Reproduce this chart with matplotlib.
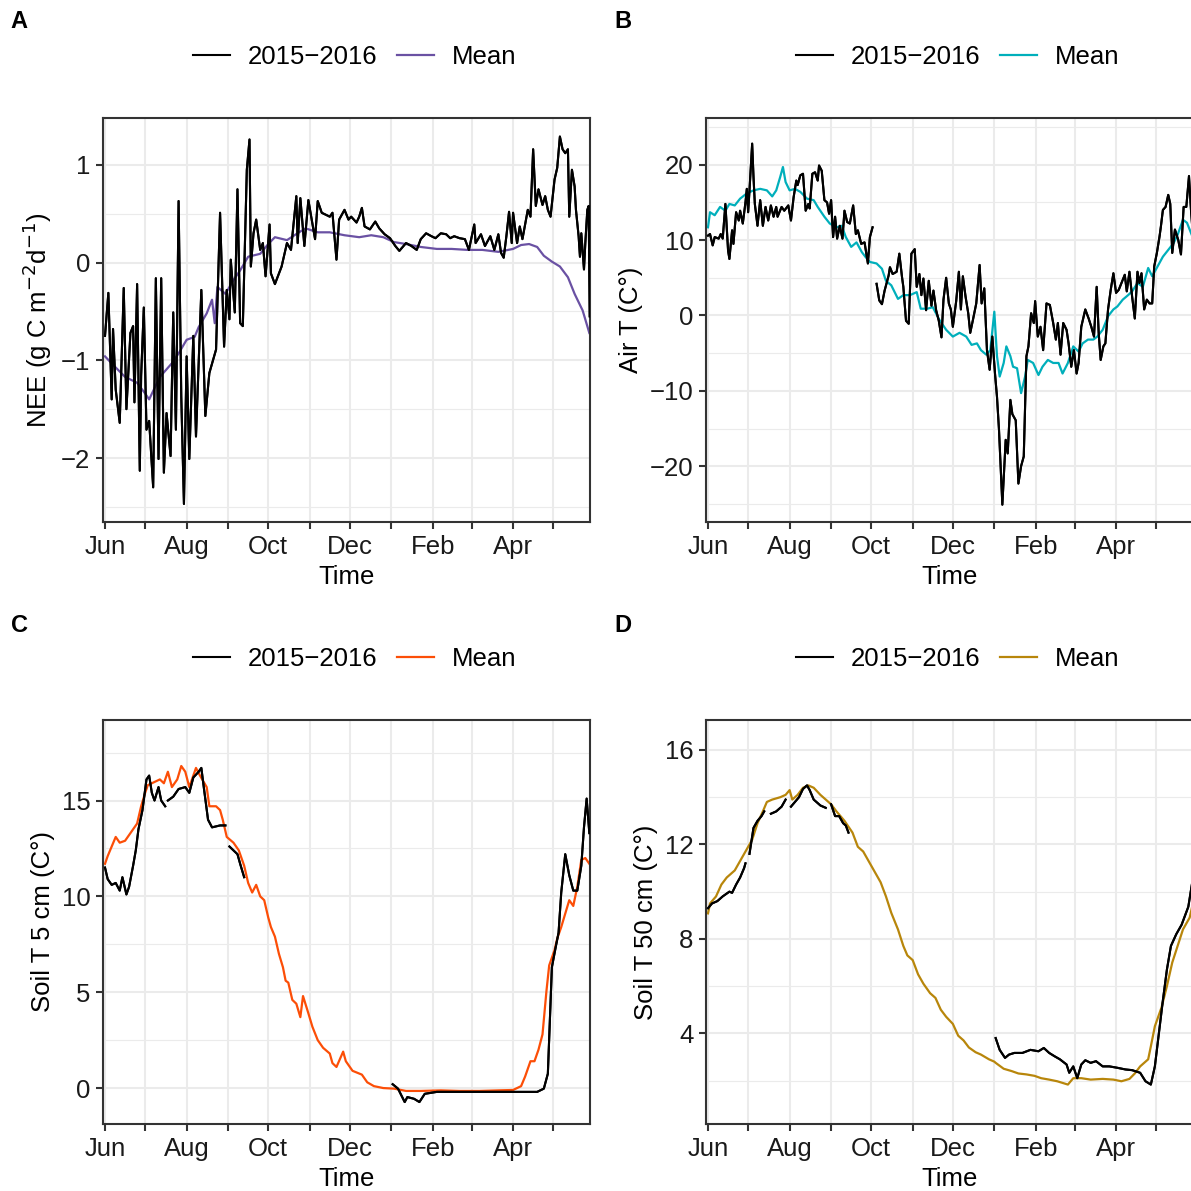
import numpy as np
import matplotlib
matplotlib.use("Agg")
import matplotlib.pyplot as plt
import matplotlib.dates as mdates
from matplotlib.ticker import FuncFormatter, MultipleLocator
from datetime import datetime

plt.rcParams["font.family"] = ["Liberation Sans", "DejaVu Sans"]

nan = np.nan
start = mdates.date2num(datetime(2015, 6, 1))

# ---- A: NEE ----
nee_mean_day = [0, 7, 15, 24, 30, 33, 41, 50, 55, 61, 67, 70, 76, 80, 82, 84, 90, 96, 101, 107, 116, 122, 127,
                136, 145, 150, 159, 168, 179, 190, 199, 208, 216, 225, 236, 248, 259, 271, 282, 294, 305, 311,
                317, 323, 328, 334, 340, 346, 351, 357, 362]
nee_mean = [-0.96, -1.06, -1.17, -1.23, -1.34, -1.40, -1.17, -1.03, -0.93, -0.79, -0.76, -0.66, -0.52, -0.38,
            -0.62, -0.25, -0.32, -0.18, -0.08, 0.06, 0.09, 0.19, 0.26, 0.23, 0.31, 0.35, 0.31, 0.31, 0.28, 0.26,
            0.28, 0.26, 0.21, 0.19, 0.16, 0.14, 0.14, 0.13, 0.13, 0.11, 0.14, 0.18, 0.19, 0.16, 0.07, 0.01,
            -0.04, -0.15, -0.32, -0.49, -0.72]
nee_obs_day = [0, 2.5, 5, 6, 8, 11, 14, 16, 19, 21, 22, 24, 26, 27, 29, 31, 33, 36, 38, 40, 42, 44, 46, 49, 51,
               53, 55, 57, 59, 61, 63, 66, 68, 72, 75, 78, 83, 86, 89, 91, 93, 94, 97, 99, 101, 103, 106, 108,
               109, 111, 113, 116, 118, 120, 123, 124, 127, 132, 136, 139, 143, 144, 146, 149, 152, 157, 159,
               162, 168, 170, 173, 175, 179, 182, 184, 188, 190, 192, 194, 198, 202, 205, 209, 213, 217, 220,
               225, 229, 233, 236, 240, 244, 247, 251, 255, 258, 261, 265, 269, 272, 276, 277, 281, 284, 288,
               291, 294, 296, 298, 300, 302, 304, 305, 308, 310, 312, 316, 318, 320, 322, 324, 327, 329, 331,
               333, 336, 338, 340, 342, 344, 346, 347, 349, 351, 352, 354, 355, 356, 358, 359, 360.5, 361.5, 362.3]
nee_obs = [-0.75, -0.31, -1.40, -0.68, -1.30, -1.64, -0.26, -1.50, -0.72, -0.65, -1.43, -0.22, -2.13, -1.16,
           -0.46, -1.71, -1.62, -2.30, -0.16, -2.01, -0.16, -2.15, -1.54, -1.98, -0.51, -1.71, 0.63, -1.37,
           -2.47, -0.96, -2.01, -0.75, -1.78, -0.28, -1.57, -1.13, -0.89, 0.51, -0.86, -0.28, -0.58, 0.03,
           -0.51, 0.75, -0.62, -0.65, 0.95, 1.26, -0.04, 0.30, 0.44, 0.13, 0.20, -0.14, 0.39, -0.11, -0.22,
           -0.04, 0.20, 0.13, 0.68, 0.20, 0.66, 0.17, 0.64, 0.24, 0.63, 0.51, 0.47, 0.51, 0.03, 0.44, 0.54,
           0.44, 0.47, 0.41, 0.47, 0.56, 0.37, 0.34, 0.42, 0.35, 0.29, 0.25, 0.17, 0.12, 0.20, 0.17, 0.13,
           0.24, 0.30, 0.27, 0.25, 0.30, 0.29, 0.25, 0.27, 0.25, 0.24, 0.13, 0.39, 0.20, 0.29, 0.17, 0.27,
           0.13, 0.29, 0.10, 0.05, 0.27, 0.52, 0.20, 0.51, 0.20, 0.37, 0.24, 0.54, 0.47, 1.16, 0.58, 0.75,
           0.59, 0.68, 0.54, 0.47, 0.85, 0.97, 1.29, 1.16, 1.12, 1.16, 0.47, 0.95, 0.78, 0.54, 0.27, 0.06,
           0.30, -0.07, 0.20, 0.54, 0.58, -0.55]

# ---- B: air temperature ----
air_mean_day = [0, 1.5, 5, 9, 13, 16, 20, 24, 29, 34, 39, 44, 48, 51, 54, 56, 58, 61, 65, 69, 74, 79, 82, 87,
                91, 96, 100, 103, 107, 111, 115, 118, 121, 126, 130, 133, 137, 142, 146, 151, 156, 159, 164,
                168, 173, 178, 183, 188, 193, 197, 201, 204, 208, 211, 214, 216, 218, 221, 223, 226, 228, 231,
                234, 237, 239, 243, 247, 250, 254, 258, 262, 265, 269, 273, 277, 280, 284, 288, 291, 295, 299,
                303, 306, 310, 314, 317, 321, 325, 329, 332, 336, 340, 344, 348, 351, 355, 358, 362]
air_mean = [11.7, 13.7, 13.3, 14.4, 13.9, 14.8, 14.6, 15.5, 16.2, 16.6, 16.8, 16.6, 15.8, 16.6, 18.4, 19.7, 17.7,
            16.6, 16.8, 16.4, 15.5, 15.3, 14.4, 13.1, 12.2, 11.7, 11.9, 10.4, 9.1, 9.7, 8.4, 7.7, 7.1, 6.9,
            6.2, 4.6, 4.0, 2.2, 2.7, 2.7, 3.1, 0.9, 0.9, 1.1, -0.6, -1.9, -2.8, -2.3, -2.8, -3.9, -3.7, -4.6,
            -5.2, -4.6, 0.5, -5.4, -8.1, -6.3, -4.1, -5.4, -6.8, -7.0, -10.3, -8.1, -5.9, -6.3, -7.9, -6.8,
            -5.9, -6.3, -6.3, -7.7, -6.3, -4.1, -4.8, -3.7, -3.2, -3.2, -2.8, -1.9, -0.1, 0.8, 1.2, 2.1, 2.7,
            3.2, 4.3, 3.8, 6.3, 5.2, 6.5, 7.8, 8.7, 9.6, 10.7, 12.7, 12.3, 10.5]
air_obs_day = [0, 1.5, 3.5, 5, 8, 9.5, 11, 13, 15, 16, 18, 19, 21, 23, 24, 26, 28, 29, 30, 31, 33, 34, 35, 37,
               39, 41, 43, 45, 47, 49, 51, 52, 55, 57, 60, 62, 64, 66, 67, 69, 71, 73, 75, 76, 78, 80, 82, 83,
               85, 87, 89, 90.5, 92, 93.5, 95, 96.5, 98.5, 100.5, 102, 104, 106, 108.5, 110.5, 112, 114.5, 117,
               119.5, 121, 123, 124.5,
               126, 128, 130, 132, 135, 136, 138, 141, 143, 145, 146, 148, 150, 152, 154.5, 156, 158, 159.5,
               161, 163, 165, 167, 168.5, 170.5, 172.5, 174.5, 176, 178, 180, 181.5, 183, 185.5, 187.5, 189,
               190.5, 192.5, 194.5, 196, 198, 200.5, 203, 204.5, 206.5, 208.5, 210.5, 212.5, 214.5, 216, 217.5,
               220, 222.5, 224, 226, 227.5, 230, 232, 234, 236, 238, 239.5, 241.5, 243.5, 244.5, 246.5, 248.5,
               250.5, 253, 255.5, 258, 260, 261.5, 263.5, 265.5, 268, 269.5, 271.5, 273.5, 275.5, 277, 279,
               282, 284.5, 286.5, 288.5, 290.5, 292, 293.5, 295.5, 297, 299, 301, 303, 305, 307, 309, 311.5,
               313, 315, 317, 319, 321, 322.5, 324, 326, 328, 330, 332, 333.5, 335.5, 337.5, 338.5, 340, 342,
               344, 345.5, 347, 349, 351.5, 353.5, 355.5, 357.5, 359.5, 361, 363]
air_obs = [10.6, 10.8, 9.3, 10.4, 10.2, 10.8, 10.2, 14.8, 8.6, 7.5, 11.3, 9.5, 13.7, 12.6, 13.9, 12.2, 15.0,
           16.8, 13.7, 16.6, 22.8, 18.4, 14.8, 11.9, 15.3, 11.9, 14.4, 12.6, 14.6, 13.1, 14.4, 13.1, 14.4,
           13.9, 14.6, 12.6, 15.7, 17.9, 17.3, 18.6, 18.8, 13.9, 14.8, 14.2, 18.8, 19.0, 17.9, 19.9, 19.2,
           15.3, 15.0, 13.5, 15.3, 10.4, 13.1, 10.2, 11.9, 10.2, 13.9, 12.4, 12.2, 14.6, 10.8, 11.3, 9.5, 9.7,
           6.9, 10.4, 11.7, nan,
           4.2, 2.0, 1.5, 3.3, 5.3, 6.4, 5.5, 5.8, 8.2, 5.1, 3.8, -0.7, -1.1, 8.2, 8.8, 3.8, 5.5, 2.7,
           4.9, 0.7, 4.6, 1.3, 3.3, 0.7, -0.7, -2.9, 2.1, 5.0, 1.6, 0.8, -1.5, 1.9, 5.8, 0.8,
           5.2, 2.5, 0.3, -2.3, -0.6, 1.6, 6.7, 1.6, 3.6, -4.6, -7.2, -2.8, -7.7, -10.8, -15.2,
           -25.1, -16.5, -18.3, -11.2, -13.1, -13.9, -22.3, -20.0, -18.7, -5.4, -4.1, 0.3, -1.0, 1.9, -2.8, -1.5,
           -4.6, 1.6, 1.4, -1.0, -3.2, -1.0, -5.2, -1.0, -1.9, -3.7, -6.8, -4.6, -7.7, -6.3, -1.5,
           0.8, -0.4, -1.5, -2.8, 3.8, -2.3, -5.9, -4.1, -3.7, 0.8, 3.4, 5.6, 3.0, 3.4, 4.3, 5.4,
           3.2, 5.8, 2.5, -0.4, 5.8, 4.3, 5.6, 0.8, 2.1, 1.6, 1.6, 6.5, 8.3, 10.5, 11.8, 14.0, 14.4,
           16.0, 14.8, 8.3, 11.4, 10.0, 8.1, 14.4, 14.4, 18.5, 14.0, 9.2]

# ---- C: soil temperature 5 cm ----
s5_mean_day = [0, 2, 5, 8, 11, 15, 20, 24, 27, 30, 32, 38, 41, 44, 47, 50, 54, 57, 60, 63, 66, 68, 71, 76, 78,
               83, 86, 88, 91, 96, 100, 104, 107, 110, 113, 116, 119, 122, 124, 127, 130, 133, 135, 137, 140,
               143, 146, 148, 152, 155, 159, 163, 168, 170, 173, 178, 180, 185, 192, 196, 201, 208, 216, 225,
               236, 251, 265, 280, 294, 305, 311, 314, 318, 321, 324, 327, 330, 332, 336, 338, 341, 344, 347,
               350, 353, 356, 359, 362]
s5_mean = [11.7, 12.1, 12.6, 13.1, 12.8, 12.9, 13.4, 13.8, 14.7, 15.4, 15.8, 16.0, 16.1, 15.9, 16.5, 15.7,
           16.1, 16.8, 16.5, 15.7, 16.3, 16.7, 16.3, 15.7, 14.7, 14.7, 14.5, 14.0, 13.1, 12.8, 12.4, 11.6,
           10.7, 10.2, 10.6, 10.0, 9.8, 8.9, 8.4, 7.9, 7.0, 6.3, 5.6, 5.5, 4.6, 4.4, 3.7, 4.8, 3.9, 3.2, 2.5,
           2.1, 1.8, 1.3, 1.1, 1.9, 1.4, 0.9, 0.7, 0.3, 0.1, 0.0, -0.03, -0.15, -0.15, -0.12, -0.15, -0.15,
           -0.12, -0.1, 0.1, 0.6, 1.4, 1.4, 2.0, 2.8, 5.1, 6.4, 7.2, 7.8, 8.4, 9.1, 9.8, 9.5, 10.5, 11.9,
           12.0, 11.7]
s5_obs_day = [0, 2, 5, 8, 11, 13, 16, 18, 21, 23, 25, 28, 31, 33, 35, 37, 40, 42, 45, 46,
              47, 51, 55, 60, 63, 66, 70, 72, 74, 77, 80, 86, 90, 91.5,
              93, 96, 99, 101, 104, 105,
              215, 219, 224, 226, 231, 235, 239, 248, 265, 294, 323, 328, 331, 334, 337, 339, 341, 344, 347,
              350, 353, 356, 358, 360, 362]
s5_obs = [11.5, 10.9, 10.6, 10.7, 10.3, 11.0, 10.1, 10.5, 11.6, 12.4, 13.5, 14.5, 16.1, 16.3, 15.4, 15.0,
          15.7, 15.0, 14.7, nan,
          15.0, 15.2, 15.6, 15.7, 15.4, 16.2, 16.5, 16.7, 15.6, 14.0, 13.6, 13.7, 13.7, nan,
          12.6, 12.4, 12.2, 11.7, 11.0, nan,
          0.2, -0.03, -0.73, -0.47, -0.56, -0.73, -0.3, -0.2, -0.2, -0.2, -0.2, -0.03, 0.75, 6.3, 7.4, 8.1,
          10.2, 12.2, 11.1, 10.3, 10.3, 11.6, 13.6, 15.1, 13.3]

# ---- D: soil temperature 50 cm ----
s50_mean_day = [0, 1.5, 6, 10, 14, 20, 24, 28, 33, 37, 41, 44, 48, 54, 58, 61, 63, 67, 71, 75, 79, 84, 88, 92,
                96, 102, 108, 112, 116, 120, 125, 129, 133, 137, 142, 146, 149, 153, 157, 161, 166, 170, 174,
                178, 183, 187, 191, 195, 200, 204, 210, 214, 215, 221, 227, 232, 238, 244, 249, 255, 261, 265,
                269, 273, 279, 286, 295, 303, 309, 315, 319, 323, 329, 331, 334, 339, 343, 347, 351, 355, 360,
                362]
s50_mean = [9.08, 9.5, 9.8, 10.3, 10.6, 10.9, 11.3, 11.7, 12.2, 12.9, 13.4, 13.8, 13.9, 14.0, 14.1, 14.3, 13.9,
            14.1, 14.4, 14.5, 14.4, 14.1, 13.9, 13.7, 13.4, 13.0, 12.5, 11.9, 11.7, 11.3, 10.8, 10.4, 9.8,
            9.1, 8.4, 7.7, 7.3, 7.1, 6.5, 6.1, 5.7, 5.5, 5.0, 4.7, 4.4, 3.9, 3.7, 3.4, 3.2, 3.1, 2.9, 2.8,
            2.75, 2.5, 2.4, 2.3, 2.26, 2.2, 2.1, 2.04, 1.97, 1.9, 1.83, 2.1, 2.1, 2.04, 2.07, 2.04, 1.97, 2.07,
            2.3, 2.6, 2.9, 3.45, 4.3, 5.1, 6.0, 7.0, 7.7, 8.4, 8.9, 9.4]
s50_obs_day = [0, 3, 7, 11, 16, 18, 21, 24, 27, 28, 29.5,
               31, 34, 37, 40, 42, 44,
               47, 51, 55, 58, 59.5,
               62, 65, 68, 71, 74, 76, 79, 84, 88, 90,
               92, 95, 98, 101, 103, 105, 106,
               215, 218, 222, 225, 229, 235, 241, 247, 251, 255, 259, 263, 268, 270, 273, 276, 279, 282, 286,
               290, 295, 300, 306, 312, 317, 323, 327, 331, 334, 337, 340, 343, 346, 350, 354, 359, 362.5]
s50_obs = [9.3, 9.5, 9.6, 9.8, 10.0, 9.95, 10.3, 10.6, 11.0, 11.2, nan,
           11.6, 12.7, 13.0, 13.2, 13.4, nan,
           13.3, 13.4, 13.6, 13.9, nan,
           13.6, 13.8, 14.0, 14.35, 14.5, 14.3, 13.9, 13.65, 13.55, nan,
           13.7, 13.2, 13.2, 12.9, 12.8, 12.5, nan,
           3.8, 3.3, 2.96, 3.1, 3.17, 3.17, 3.3, 3.24, 3.38, 3.17, 3.03, 2.9, 2.68, 2.33, 2.6, 2.1, 2.68,
           2.86, 2.75, 2.82, 2.6, 2.6, 2.54, 2.47, 2.44, 2.33, 1.97, 1.83, 2.6, 4.0, 5.4, 6.7, 7.7, 8.2,
           8.6, 9.36, 10.6]

panels = [
    dict(tag="A", obs_day=nee_obs_day, obs=nee_obs, mean_day=nee_mean_day, mean=nee_mean, color="#6A51A3",
         ylabel="NEE (g C m$^{-2}$d$^{-1}$)", ylim=(-2.655, 1.48), major=1, minor=0.5),
    dict(tag="B", obs_day=air_obs_day, obs=air_obs, mean_day=air_mean_day, mean=air_mean, color="#00AFBB",
         ylabel="Air T (C°)", ylim=(-27.4, 26.2), major=10, minor=5),
    dict(tag="C", obs_day=s5_obs_day, obs=s5_obs, mean_day=s5_mean_day, mean=s5_mean, color="#FC4E07",
         ylabel="Soil T 5 cm (C°)", ylim=(-1.875, 19.2), major=5, minor=2.5),
    dict(tag="D", obs_day=s50_obs_day, obs=s50_obs, mean_day=s50_mean_day, mean=s50_mean, color="#B8860B",
         ylabel="Soil T 50 cm (C°)", ylim=(0.16, 17.27), major=4, minor=2),
]

W = H = 1191
fig = plt.figure(figsize=(W / 100, H / 100), dpi=100)
fig.patch.set_facecolor("white")

boxes = [(103, 118), (706, 118), (103, 720), (706, 720)]
pw, ph = 487, 404
tag_pos = [(19, 22), (623, 22), (19, 625), (623, 625)]
FS = 18.5

def month_label(x, pos=None):
    d = mdates.num2date(x)
    return d.strftime("%b") if d.month % 2 == 0 else ""

for p, (lx, ty), (tx, tyy) in zip(panels, boxes, tag_pos):
    ax = fig.add_axes([lx / W, 1 - (ty + ph) / H, pw / W, ph / H])
    ax.set_facecolor("white")
    od = start + np.array(p["obs_day"], dtype=float)
    md = start + np.array(p["mean_day"], dtype=float)
    ax.plot(od, p["obs"], color="black", lw=1.5, label="2015\u22122016", zorder=3)
    ax.plot(md, p["mean"], color=p["color"], lw=1.6, label="Mean", zorder=2)
    # redraw observed on top of mean
    ax.plot(od, p["obs"], color="black", lw=1.5, zorder=4)

    ax.set_xlim(start - 1.5, start + 362.5)
    ax.set_ylim(*p["ylim"])
    ax.xaxis.set_major_locator(mdates.MonthLocator())
    ax.xaxis.set_major_formatter(FuncFormatter(month_label))
    ax.yaxis.set_major_locator(MultipleLocator(p["major"]))
    ax.yaxis.set_minor_locator(MultipleLocator(p["minor"]))
    ax.grid(True, which="major", color="#EBEBEB", lw=1.5, zorder=0)
    ax.grid(True, which="minor", axis="y", color="#EBEBEB", lw=0.8, zorder=0)
    ax.set_axisbelow(True)
    for s in ax.spines.values():
        s.set_color("#333333")
        s.set_linewidth(1.5)
    ax.tick_params(which="major", length=5, width=1.5, color="#333333", labelsize=FS,
                   labelcolor="#1A1A1A")
    ax.tick_params(axis="x", pad=4.5)
    ax.tick_params(axis="y", pad=4)
    ax.tick_params(which="minor", length=0)
    ax.set_xlabel("Time", fontsize=FS, labelpad=4)
    ax.set_ylabel(p["ylabel"], fontsize=FS, labelpad=5)

    ax.legend(loc="center", bbox_to_anchor=(0.517, 1.15), ncol=2, frameon=False, fontsize=FS,
              handlelength=1.45, handletextpad=0.7, columnspacing=0.75)
    fig.text(tx / W, 1 - tyy / H, p["tag"], fontsize=17, fontweight="bold", ha="center", va="center")

fig.savefig("out.png", dpi=100, facecolor="white")
